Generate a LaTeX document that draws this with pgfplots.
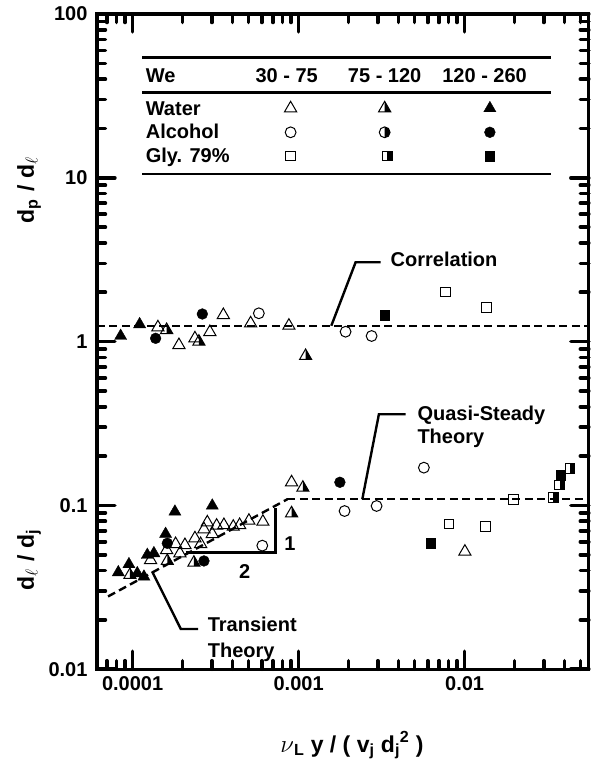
\documentclass[border=0pt]{standalone}
\usepackage{pgfplots}
\pgfplotsset{compat=1.18}
\usepackage{fontspec}
\setmainfont{Liberation Sans}
\newcommand\F{\bfseries\fontsize{20}{24}\selectfont}
\newcommand\G{\bfseries\fontsize{23}{27}\selectfont}

\pgfdeclareplotmark{htri}{%
  \pgfpathmoveto{\pgfqpoint{0pt}{\pgfplotmarksize}}%
  \pgfpathlineto{\pgfqpoint{0.866\pgfplotmarksize}{-0.5\pgfplotmarksize}}%
  \pgfpathlineto{\pgfqpoint{0pt}{-0.5\pgfplotmarksize}}%
  \pgfpathclose
  \pgfsetfillcolor{black}%
  \pgfusepathqfill
  \pgfpathmoveto{\pgfqpoint{0pt}{\pgfplotmarksize}}%
  \pgfpathlineto{\pgfqpoint{0.866\pgfplotmarksize}{-0.5\pgfplotmarksize}}%
  \pgfpathlineto{\pgfqpoint{-0.866\pgfplotmarksize}{-0.5\pgfplotmarksize}}%
  \pgfpathclose
  \pgfusepathqstroke
}
\pgfdeclareplotmark{hcirc}{%
  \pgfpathmoveto{\pgfqpoint{0pt}{\pgfplotmarksize}}%
  \pgfpatharc{90}{-90}{\pgfplotmarksize}%
  \pgfpathclose
  \pgfsetfillcolor{black}%
  \pgfusepathqfill
  \pgfpathcircle{\pgfpointorigin}{\pgfplotmarksize}%
  \pgfusepathqstroke
}
\pgfdeclareplotmark{hsq}{%
  \pgfpathrectanglecorners{\pgfqpoint{0pt}{-\pgfplotmarksize}}{\pgfqpoint{\pgfplotmarksize}{\pgfplotmarksize}}%
  \pgfsetfillcolor{black}%
  \pgfusepathqfill
  \pgfpathrectanglecorners{\pgfqpoint{-\pgfplotmarksize}{-\pgfplotmarksize}}{\pgfqpoint{\pgfplotmarksize}{\pgfplotmarksize}}%
  \pgfusepathqstroke
}

\pgfplotsset{
  mk/.style={black, only marks, mark options={solid, line width=1pt, draw=black}},
  OT/.style={mk, mark=triangle, mark size=7pt},
  HT/.style={mk, mark=htri, mark size=7pt},
  FT/.style={mk, mark=triangle*, mark size=7pt, mark options={fill=black}},
  OC/.style={mk, mark=o, mark size=5.4pt},
  HC/.style={mk, mark=hcirc, mark size=5.4pt},
  FC/.style={mk, mark=*, mark size=5.4pt, mark options={fill=black}},
  OS/.style={mk, mark=square, mark size=4.8pt},
  HS/.style={mk, mark=hsq, mark size=4.8pt},
  FS/.style={mk, mark=square*, mark size=4.8pt, mark options={fill=black}},
  dl/.style={black, no marks, line width=2.4pt, dash pattern=on 8pt off 4.5pt},
}

\begin{document}
\begin{tikzpicture}
\begin{axis}[
  xmode=log, ymode=log,
  scale only axis, width=491.8pt, height=655.2pt,
  xmin=6.1e-5, xmax=0.056, ymin=0.01, ymax=100,
  clip=false,
  xtick={1e-4,1e-3,1e-2}, xticklabels={0.0001,0.001,0.01},
  ytick={0.01,0.1,1,10,100}, yticklabels={0.01,0.1,1,10,100},
  minor xtick={7e-5,8e-5,9e-5,2e-4,3e-4,4e-4,5e-4,6e-4,7e-4,8e-4,9e-4,2e-3,3e-3,4e-3,5e-3,6e-3,7e-3,8e-3,9e-3,2e-2,3e-2,4e-2,5e-2},
  minor ytick={0.02,0.03,0.04,0.05,0.06,0.07,0.08,0.09,0.2,0.3,0.4,0.5,0.6,0.7,0.8,0.9,2,3,4,5,6,7,8,9,20,30,40,50,60,70,80,90},
  major tick length=18pt, minor tick length=8.5pt,
  every tick/.style={black, line width=3.6pt, line cap=round},
  tick align=inside,
  tick label style={font=\F},
  xticklabel style={yshift=-4pt},
  yticklabel style={xshift=-6pt},
  /pgf/number format/assume math mode=true,
]
% ---- reference lines
\addplot[dl] coordinates {(6.1e-5,1.25) (0.056,1.25)};
\addplot[dl] coordinates {(7.11e-5,0.0278) (8.55e-4,0.109)};
\addplot[dl] coordinates {(8.55e-4,0.109) (0.056,0.109)};

% ---- upper group: dp / dl
\addplot[OT] coordinates {(1.42e-4,1.223) (1.901e-4,0.953) (2.373e-4,1.047) (2.92e-4,1.144) (3.52e-4,1.453) (5.14e-4,1.293) (8.74e-4,1.251)};
\addplot[HT] coordinates {(1.603e-4,1.177) (2.508e-4,0.999) (1.102e-3,0.817)};
\addplot[FT] coordinates {(8.47e-5,1.082) (1.102e-4,1.275)};
\addplot[OC] coordinates {(5.76e-4,1.489) (1.919e-3,1.149) (2.753e-3,1.082)};
\addplot[FC] coordinates {(1.376e-4,1.047) (2.63e-4,1.474)};
\addplot[OS] coordinates {(7.68e-3,2.008) (1.351e-2,1.611)};
\addplot[FS] coordinates {(3.297e-3,1.447)};

% ---- lower group: dl / dj
\addplot[OT] coordinates {(9.07e-4,0.1384) (2.818e-4,0.0788) (3.206e-4,0.0752) (3.548e-4,0.0759) (4.04e-4,0.0741) (4.412e-4,0.0759) (5.02e-4,0.0806) (6.093e-4,0.0795) (2.69e-4,0.0715) (3.02e-4,0.0669) (2.373e-4,0.063) (2.066e-4,0.0573) (1.815e-4,0.0581) (2.569e-4,0.0581) (1.603e-4,0.0534) (1.927e-4,0.051) (1.283e-4,0.0464) (1.004e-2,0.0522)};
\addplot[HT] coordinates {(1.061e-3,0.1282) (9.07e-4,0.0895) (1.618e-4,0.0458) (2.34e-4,0.0447) (9.63e-5,0.0376)};
\addplot[FT] coordinates {(1.798e-4,0.0915) (3.02e-4,0.0996) (1.58e-4,0.0669) (1.226e-4,0.0498) (1.343e-4,0.051) (9.5e-5,0.0437) (8.2e-5,0.039) (1.067e-4,0.0385) (1.17e-4,0.0367)};
\addplot[OC] coordinates {(1.892e-3,0.0924) (2.95e-3,0.0992) (5.686e-3,0.170) (6.043e-4,0.0568)};
\addplot[FC] coordinates {(1.773e-3,0.1384) (1.618e-4,0.0587) (2.69e-4,0.0458)};
\addplot[OS] coordinates {(8.04e-3,0.077) (1.338e-2,0.0741) (1.965e-2,0.109)};
\addplot[HS] coordinates {(3.42e-2,0.1121) (3.735e-2,0.1332) (4.31e-2,0.1684)};
\addplot[FS] coordinates {(6.24e-3,0.0587) (3.787e-2,0.1533)};

% ---- legend table symbols
\addplot[OT] coordinates {(8.95e-4,26.57)};
\addplot[OC] coordinates {(8.95e-4,18.96)};
\addplot[OS] coordinates {(8.95e-4,13.59)};
\addplot[HT] coordinates {(3.3e-3,26.57)};
\addplot[HC] coordinates {(3.3e-3,18.96)};
\addplot[HS] coordinates {(3.42e-3,13.59)};
\addplot[FT] coordinates {(1.42e-2,26.57)};
\addplot[FC] coordinates {(1.42e-2,18.96)};
\addplot[FS] coordinates {(1.42e-2,13.59)};

% frame
\draw[line width=3.4pt] (rel axis cs:0,0) rectangle (rel axis cs:1,1);

% legend rules and text
\draw[line width=2.6pt] (axis cs:1.144e-4,54.4) -- (axis cs:3.297e-2,54.4);
\draw[line width=2.6pt] (axis cs:1.144e-4,33.07) -- (axis cs:3.297e-2,33.07);
\draw[line width=2.6pt] (axis cs:1.144e-4,10.55) -- (axis cs:3.297e-2,10.55);
\node[font=\F, anchor=base west, inner sep=0pt] at (axis cs:1.198e-4,38.28) {We};
\node[font=\F, anchor=base, inner sep=0pt] at (axis cs:8.47e-4,38.28) {30 - 75};
\node[font=\F, anchor=base, inner sep=0pt] at (axis cs:3.30e-3,38.28) {75 - 120};
\node[font=\F, anchor=base, inner sep=0pt] at (axis cs:1.32e-2,38.28) {120 - 260};
\node[font=\F, anchor=base west, inner sep=0pt] at (axis cs:1.198e-4,24.17) {Water};
\node[font=\F, anchor=base west, inner sep=0pt] at (axis cs:1.198e-4,17.42) {Alcohol};
\node[font=\F, anchor=base west, inner sep=0pt] at (axis cs:1.198e-4,12.43) {Gly. 79\%};

% annotations
\draw[line width=2.4pt] (axis cs:1.574e-3,1.25) -- (axis cs:2.205e-3,3.05) -- (axis cs:3.119e-3,3.05);
\node[font=\F, anchor=base west, inner sep=0pt] at (axis cs:3.58e-3,2.893) {Correlation};
\draw[line width=2.4pt] (axis cs:2.419e-3,0.109) -- (axis cs:3.046e-3,0.36) -- (axis cs:4.41e-3,0.36);
\node[font=\F, anchor=base west, inner sep=0pt] at (axis cs:5.19e-3,0.329) {Quasi-Steady};
\node[font=\F, anchor=base west, inner sep=0pt] at (axis cs:5.19e-3,0.2393) {Theory};
\draw[line width=2.4pt] (axis cs:1.311e-4,0.0395) -- (axis cs:1.952e-4,0.0176) -- (axis cs:2.48e-4,0.0176);
\node[font=\F, anchor=base west, inner sep=0pt] at (axis cs:2.83e-4,0.0171) {Transient};
\node[font=\F, anchor=base west, inner sep=0pt] at (axis cs:2.83e-4,0.01174) {Theory};
% slope triangle
\draw[line width=2.4pt] (axis cs:2.085e-4,0.0517) -- (axis cs:7.27e-4,0.0517) -- (axis cs:7.27e-4,0.0968);
\node[font=\F, inner sep=0pt] at (axis cs:8.86e-4,0.0587) {1};
\node[font=\F, inner sep=0pt] at (axis cs:4.73e-4,0.0394) {2};

% axis labels
\node[font=\G, rotate=90, anchor=center, inner sep=0pt] at (rel axis cs:-0.138,0.7314) {d\textsubscript{p}\hspace{7pt}/\hspace{7pt}d\textsubscript{$\ell$}};
\node[font=\G, rotate=90, anchor=center, inner sep=0pt] at (rel axis cs:-0.138,0.1667) {d\textsubscript{$\ell$}\hspace{7pt}/\hspace{7pt}d\textsubscript{j}};
\node[font=\G, anchor=base, inner sep=0pt] at (rel axis cs:0.5185,-0.1264) {$\nu$\textsubscript{L} y / ( v\textsubscript{j} d\textsubscript{j}\textsuperscript{2} )};

\coordinate (SW) at (rel axis cs:0,0);
\coordinate (NE) at (rel axis cs:1,1);
\end{axis}
\pgfresetboundingbox
\path[use as bounding box] ([shift={(-97pt,-94.8pt)}]SW) rectangle ([shift={(8.2pt,14pt)}]NE);
\end{tikzpicture}
\end{document}
